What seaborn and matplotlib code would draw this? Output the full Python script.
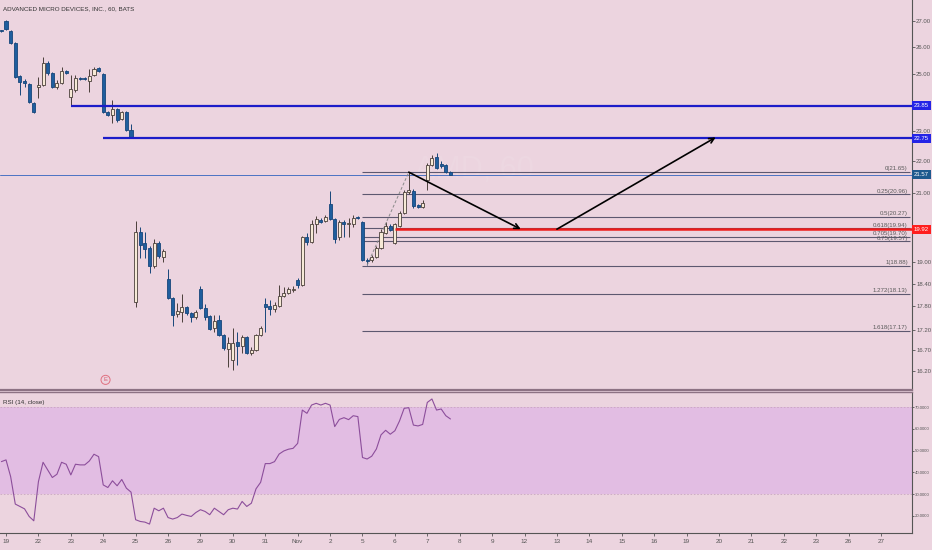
import numpy as np
import pandas as pd
import matplotlib
matplotlib.use("Agg")
import matplotlib.pyplot as plt
import seaborn as sns
from matplotlib import font_manager as fm
from matplotlib.ticker import FixedLocator, FuncFormatter, NullLocator, NullFormatter
from matplotlib.transforms import blended_transform_factory as blend

# ---------------- data ----------------
title = "ADVANCED MICRO DEVICES, INC., 60, BATS"
rsi_title = "RSI (14, close)"
watermark = "AMD, 60"
day_labels = ["19", "22", "23", "24", "25", "26", "29", "30", "31", "Nov", "2", "5", "6", "7",
              "8", "9", "12", "13", "14", "15", "16", "19", "20", "21", "22", "23", "26", "27"]
bars_per_day = 7
first_bar = -1  # first candle is the last hourly bar of the previous session

opens = [26.63, 27.00, 26.61, 26.15, 24.92, 24.73, 24.63, 23.95,
         24.52, 24.59, 25.39, 25.02, 24.52, 24.66, 25.10,
         24.16, 24.41, 24.84, 24.84, 24.73, 24.95, 25.21,
         24.99, 23.64, 23.54, 23.74, 23.40, 23.64, 23.03,
         17.91, 19.83, 19.52, 19.38, 18.88, 19.52, 19.13,
         18.52, 18.01, 17.60, 17.65, 17.78, 17.62, 17.52,
         18.26, 17.75, 17.55, 17.24, 17.45, 17.07, 16.72,
         16.46, 16.89, 16.80, 17.02, 16.63, 16.70, 17.07,
         17.86, 17.81, 17.73, 17.81, 18.07, 18.15, 18.23,
         18.49, 18.36, 19.69, 19.55, 20.07, 20.19, 20.16,
         20.67, 20.22, 19.69, 20.13, 20.07, 20.07, 20.28,
         20.13, 19.04, 19.04, 19.12, 19.38, 19.81, 20.01,
         19.52, 20.01, 20.40, 21.03, 21.06, 20.64, 20.58,
         21.40, 21.88, 22.13, 21.91, 21.88, 21.65]
highs = [26.66, 27.04, 26.65, 26.18, 24.95, 24.81, 24.66, 23.99,
         24.88, 25.62, 25.45, 25.06, 24.77, 25.24, 25.13,
         24.95, 24.95, 24.88, 24.88, 25.17, 25.24, 25.24,
         25.02, 23.67, 24.06, 23.78, 23.67, 23.67, 23.23,
         20.16, 19.98, 19.83, 19.44, 19.64, 19.58, 19.35,
         18.80, 18.04, 17.88, 18.12, 17.81, 17.65, 17.70,
         18.34, 17.86, 17.57, 17.57, 17.57, 17.09, 17.02,
         17.24, 17.14, 17.07, 17.04, 16.77, 17.09, 17.29,
         18.01, 17.96, 17.91, 18.36, 18.31, 18.31, 18.34,
         18.55, 19.72, 19.81, 20.19, 20.31, 20.25, 20.34,
         21.06, 20.25, 20.19, 20.19, 20.25, 20.34, 20.31,
         20.16, 19.10, 19.18, 19.44, 19.92, 20.13, 20.07,
         20.10, 20.46, 21.09, 21.65, 21.12, 20.67, 20.79,
         21.94, 22.20, 22.26, 22.00, 21.91, 21.68]
lows = [26.58, 26.65, 26.12, 24.84, 24.23, 24.52, 23.95, 23.60,
        24.13, 24.55, 24.95, 24.48, 24.45, 24.63, 24.99,
        23.85, 24.34, 24.77, 24.77, 24.34, 24.92, 25.06,
        23.60, 23.50, 23.26, 23.30, 23.36, 22.99, 22.76,
        17.78, 19.10, 19.10, 18.69, 18.82, 19.10, 18.99,
        17.99, 17.29, 17.52, 17.40, 17.57, 17.40, 17.47,
        17.73, 17.45, 17.19, 17.14, 17.04, 16.70, 16.29,
        16.22, 16.34, 16.63, 16.60, 16.58, 16.67, 17.04,
        17.14, 17.57, 17.65, 17.78, 18.04, 18.12, 18.18,
        18.28, 18.33, 19.46, 19.52, 19.81, 20.10, 20.13,
        20.19, 19.52, 19.61, 19.69, 19.69, 19.98, 20.22,
        19.01, 18.90, 18.99, 19.10, 19.35, 19.78, 19.86,
        19.49, 19.98, 20.37, 20.97, 20.55, 20.55, 20.55,
        21.09, 21.85, 21.75, 21.78, 21.62, 21.55]
closes = [26.60, 26.69, 26.15, 24.88, 24.70, 24.66, 23.99, 23.64,
          24.59, 25.39, 25.02, 24.52, 24.66, 25.10, 25.02,
          24.45, 24.84, 24.81, 24.80, 24.92, 25.17, 25.10,
          23.64, 23.54, 23.74, 23.36, 23.64, 23.03, 22.79,
          19.83, 19.46, 19.35, 18.88, 19.52, 19.15, 19.29,
          18.01, 17.57, 17.67, 17.78, 17.62, 17.52, 17.65,
          17.75, 17.52, 17.22, 17.42, 17.07, 16.75, 16.87,
          16.87, 16.80, 17.02, 16.63, 16.70, 17.07, 17.24,
          17.78, 17.73, 17.83, 18.07, 18.15, 18.26, 18.23,
          18.36, 19.69, 19.55, 20.07, 20.22, 20.13, 20.28,
          20.22, 19.64, 20.13, 20.07, 20.10, 20.25, 20.25,
          19.04, 19.01, 19.12, 19.38, 19.83, 20.01, 19.89,
          20.07, 20.40, 21.03, 21.09, 20.61, 20.58, 20.70,
          21.88, 22.10, 21.79, 21.85, 21.65, 21.57]
rsi = [44.9, 45.7, 38.0, 25.4, 24.3, 23.2, 19.7, 17.7,
       35.7, 44.6, 41.1, 37.6, 39.1, 44.6, 43.7,
       38.8, 43.7, 43.4, 43.4, 45.2, 48.3, 47.2,
       34.2, 33.0, 36.1, 33.8, 36.7, 32.7, 30.9,
       18.2, 17.4, 17.1, 16.2, 23.5, 22.3, 23.5,
       19.2, 18.5, 19.2, 20.8, 20.2, 19.7, 21.5,
       22.8, 22.0, 20.5, 23.5, 22.0, 20.5, 22.8,
       23.5, 23.1, 26.6, 24.3, 25.8, 32.4, 35.4,
       44.0, 44.0, 44.9, 48.4, 49.8, 50.6, 51.0,
       53.3, 68.6, 67.1, 70.9, 71.7, 70.9, 71.7,
       70.9, 61.0, 64.3, 65.1, 64.2, 66.0, 65.6,
       46.8, 46.1, 47.4, 50.7, 57.2, 59.3, 57.5,
       59.1, 63.6, 69.4, 69.7, 61.7, 61.3, 62.0,
       72.1, 73.7, 68.6, 69.1, 66.0, 64.5]

price_ticks = [27.0, 26.0, 25.0, 23.0, 22.0, 21.0, 19.0, 18.4, 17.8, 17.2, 16.7, 16.2]
rsi_ticks = [20, 30, 40, 50, 60, 70]
rsi_band = (30, 70)

resist_prices = [23.85, 22.75]
resist_start_bar = [14, 21]
support_price = 19.92
support_start_bar = 84
last_price = 21.57

fib_labels = ["0", "0.25", "0.5", "0.618", "0.705", "0.75", "1", "1.272", "1.618"]
fib_prices = [21.65, 20.96, 20.27, 19.94, 19.70, 19.57, 18.88, 18.13, 17.17]
fib_start_bar = 77
fib_swing = [(78, 18.90), (87, 21.65)]           # dashed diagonal of the fib tool
arrow_paths = [[(87, 21.65), (111.2, 19.92)],
               [(119, 19.92), (153.3, 22.78)]]
earnings_bar = 21.5

# ---------------- style ----------------
BG = "#ecd4df"
BAND = "#e2bde3"
UP_FILL = "#f6e9d6"
UP_EDGE = "#4a3f3a"
DN_FILL = "#1f5e9e"
DN_EDGE = "#17467a"
LEVEL_BLUE = "#1c1cc9"
RED = "#ee1b1b"
TXT = "#5a5a5a"

sns.set_theme(style="white")
narrow = "DejaVu Sans"
for cand in ["Liberation Sans Narrow", "Liberation Sans"]:
    try:
        fm.findfont(fm.FontProperties(family=cand), fallback_to_default=False)
        narrow = cand
        break
    except Exception:
        pass
plt.rcParams["font.family"] = [narrow, "DejaVu Sans"]

W, H = 932, 550
fig = plt.figure(figsize=(W / 100, H / 100), dpi=100)
fig.patch.set_facecolor(BG)
ax = fig.add_axes([0, 1 - 390 / H, 912 / W, 390 / H])
ax2 = fig.add_axes([0, 1 - 533 / H, 912 / W, (533 - 392) / H], sharex=ax)
for a in (ax, ax2):
    a.set_facecolor(BG)

xlim = (-1.3, 195.7)

# ---------------- candles ----------------
df = pd.DataFrame({"o": opens, "h": highs, "l": lows, "c": closes})
df["x"] = np.arange(len(df)) + first_bar
df["up"] = df["c"] >= df["o"]
df["lo"] = df[["o", "c"]].min(axis=1)
df["hgt"] = (df[["o", "c"]].max(axis=1) - df["lo"]).clip(lower=0.02)

up = df[df["up"]]
dn = df[~df["up"]]
ax.vlines(up["x"], up["l"], up["h"], color=UP_EDGE, lw=0.7, zorder=2)
ax.vlines(dn["x"], dn["l"], dn["h"], color=DN_EDGE, lw=0.7, zorder=2)
ax.bar(up["x"], up["hgt"], bottom=up["lo"], width=0.66, color=UP_FILL,
       edgecolor=UP_EDGE, linewidth=0.6, zorder=3)
ax.bar(dn["x"], dn["hgt"], bottom=dn["lo"], width=0.66, color=DN_FILL,
       edgecolor=DN_EDGE, linewidth=0.6, zorder=3)

ax.set_yscale("log")
ax.set_ylim(15.75, 27.84)
ax.set_xlim(*xlim)

# ---------------- levels ----------------
ax.axhline(last_price, color="#4a72c4", lw=0.7, zorder=1.5)
for p, s in zip(resist_prices, resist_start_bar):
    ax.hlines(p, s, xlim[1], color=LEVEL_BLUE, lw=1.6, zorder=4)
ax.hlines(support_price, support_start_bar, xlim[1], color=RED, lw=1.8, zorder=4)

for lab, p in zip(fib_labels, fib_prices):
    ax.hlines(p, fib_start_bar, xlim[1] - 0.4, color="#5d5870", lw=0.8, zorder=1.8)
    ax.text(xlim[1] - 0.9, p * 1.0012, f"{lab}({p:.2f})", ha="right", va="bottom",
            fontsize=4.4, color=TXT, zorder=5)
(sx0, sy0), (sx1, sy1) = fib_swing
ax.plot([sx0, sx1], [sy0, sy1], color="#8a8a8a", lw=0.7, ls=(0, (3, 2)), zorder=2.5)

for (x0, y0), (x1, y1) in arrow_paths:
    ax.annotate("", xy=(x1, y1), xytext=(x0, y0),
                arrowprops=dict(arrowstyle="->", color="black", lw=1.2,
                                mutation_scale=9, shrinkA=0, shrinkB=0), zorder=6)

# watermark (very faint)
ax.text(0.52, 0.565, watermark, transform=ax.transAxes, fontsize=22, color="#eedbe4",
        alpha=0.5, ha="center", va="center", zorder=0.5)

# earnings marker
ax.text(earnings_bar, 0.026, "E", transform=blend(ax.transData, ax.transAxes),
        fontsize=4.2, color="#d65a6c", ha="center", va="center", zorder=6,
        bbox=dict(boxstyle="circle,pad=0.35", fc=BG, ec="#e07080", lw=0.7))

ax.text(0.003, 0.985, title, transform=ax.transAxes, fontsize=4.5, color="#333333",
        ha="left", va="top", zorder=7)

# axis styling main
ax.yaxis.tick_right()
ax.yaxis.set_major_locator(FixedLocator(price_ticks))
ax.yaxis.set_major_formatter(FuncFormatter(lambda v, p: f"{v:.2f}"))
ax.yaxis.set_minor_locator(NullLocator())
ax.yaxis.set_minor_formatter(NullFormatter())
ax.tick_params(axis="y", which="major", length=2, width=0.6, pad=1, labelsize=4.3,
               colors="#555555", direction="out")
ax.tick_params(axis="x", which="both", bottom=False, labelbottom=False)
for s in ("left", "top"):
    ax.spines[s].set_visible(False)
ax.spines["right"].set_color("#555555")
ax.spines["right"].set_linewidth(0.8)
ax.spines["bottom"].set_color("#8d7284")
ax.spines["bottom"].set_linewidth(1.6)
ax.grid(False)


def price_box(a, y, text, fc):
    a.text(1.002, y, text, transform=blend(a.transAxes, a.transData), fontsize=4.3,
           color="white", ha="left", va="center", zorder=20, clip_on=False,
           bbox=dict(boxstyle="square,pad=0.35", fc=fc, ec="none"))


price_box(ax, resist_prices[0], f"{resist_prices[0]:.2f}", "#2424e6")
price_box(ax, resist_prices[1], f"{resist_prices[1]:.2f}", "#2424e6")
price_box(ax, last_price, f"{last_price:.2f}", "#1d5a8e")
price_box(ax, support_price, f"{support_price:.2f}", "#ff1e1e")

# ---------------- RSI ----------------
rsi_df = pd.DataFrame({"x": df["x"], "rsi": rsi})
ax2.axhspan(*rsi_band, color=BAND, zorder=0.5, lw=0)
for lvl in rsi_band:
    ax2.axhline(lvl, color="#c9a6c0", lw=0.6, ls=(0, (2, 2)), zorder=0.8)
sns.lineplot(data=rsi_df, x="x", y="rsi", ax=ax2, color="#8c4e9b", linewidth=0.8, zorder=3)
ax2.set_ylim(12.1, 76.9)
ax2.set_xlim(*xlim)
ax2.set_xlabel("")
ax2.set_ylabel("")
ax2.yaxis.tick_right()
ax2.set_yticks(rsi_ticks)
ax2.yaxis.set_major_formatter(FuncFormatter(lambda v, p: f"{v:.4f}"))
ax2.tick_params(axis="y", length=1.5, width=0.6, pad=0.5, labelsize=3.1, colors="#555555")
day_pos = np.arange(len(day_labels)) * bars_per_day
ax2.set_xticks(day_pos)
ax2.set_xticklabels(day_labels)
ax2.tick_params(axis="x", length=2, width=0.6, pad=2, labelsize=4.6, colors="#555555",
                bottom=True)
ax2.spines["left"].set_visible(False)
ax2.spines["top"].set_color("#8d7284")
ax2.spines["top"].set_linewidth(1.0)
ax2.spines["right"].set_color("#555555")
ax2.spines["right"].set_linewidth(0.8)
ax2.spines["bottom"].set_color("#555555")
ax2.spines["bottom"].set_linewidth(0.8)
ax2.grid(False)
ax2.text(0.003, 0.94, rsi_title, transform=ax2.transAxes, fontsize=4.5, color="#333333",
         ha="left", va="top", zorder=7)

fig.savefig("out.png", dpi=100, facecolor=BG)
